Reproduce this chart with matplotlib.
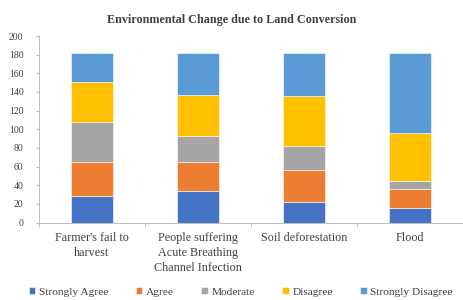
import matplotlib.pyplot as plt
import numpy as np

plt.rcParams['font.family'] = ['Liberation Serif', 'DejaVu Serif']

categories = ["Farmer's fail to\nharvest",
              "People suffering\nAcute Breathing\nChannel Infection",
              "Soil deforestation",
              "Flood"]
series_names = ["Strongly Agree", "Agree", "Moderate", "Disagree", "Strongly Disagree"]
strongly_agree = [28, 34, 22, 16]
agree = [37, 31, 34, 20]
moderate = [43, 28, 26, 9]
disagree = [43, 44, 54, 51]
strongly_disagree = [31, 45, 46, 86]
yticks = [0, 20, 40, 60, 80, 100, 120, 140, 160, 180, 200]

colors = ["#4472C4", "#ED7D31", "#A5A5A5", "#FFC000", "#5B9BD5"]
values = [strongly_agree, agree, moderate, disagree, strongly_disagree]

fig = plt.figure(figsize=(4.63, 3.0), dpi=100)
ax = fig.add_axes([0.084, 0.258, 0.916, 0.622])

x = np.arange(len(categories))
bottom = np.zeros(len(categories))
for name, vals, c in zip(series_names, values, colors):
    ax.bar(x, vals, width=0.4, bottom=bottom, color=c, label=name,
           edgecolor='white', linewidth=0.4)
    bottom += np.array(vals)

ax.set_xlim(-0.5, len(categories) - 0.5)
ax.set_ylim(0, 200)
ax.set_yticks(yticks)
ax.tick_params(axis='y', labelsize=7, length=2, color='#BFBFBF', pad=9, labelcolor='#404040')
ax.set_xticks(x)
ax.set_xticklabels(categories, fontsize=8.7, color='#404040', linespacing=1.3)
ax.set_xticks(np.arange(len(categories) + 1) - 0.5, minor=True)
ax.tick_params(axis='x', which='major', length=0, pad=7)
ax.tick_params(axis='x', which='minor', length=3, color='#BFBFBF')

for s in ['top', 'right']:
    ax.spines[s].set_visible(False)
for s in ['left', 'bottom']:
    ax.spines[s].set_color('#BFBFBF')
    ax.spines[s].set_linewidth(0.8)

fig.text(0.5, 0.935, "Environmental Change due to Land Conversion",
         ha='center', va='center', fontsize=8.7, fontweight='bold', color='#404040')

fig.legend(loc='center', bbox_to_anchor=(0.52, 0.027), ncol=5, frameon=False,
           fontsize=8.2, handlelength=0.6, handleheight=0.6, handletextpad=0.3,
           columnspacing=2.4, labelcolor='#404040')

fig.savefig('out.png', dpi=100)
